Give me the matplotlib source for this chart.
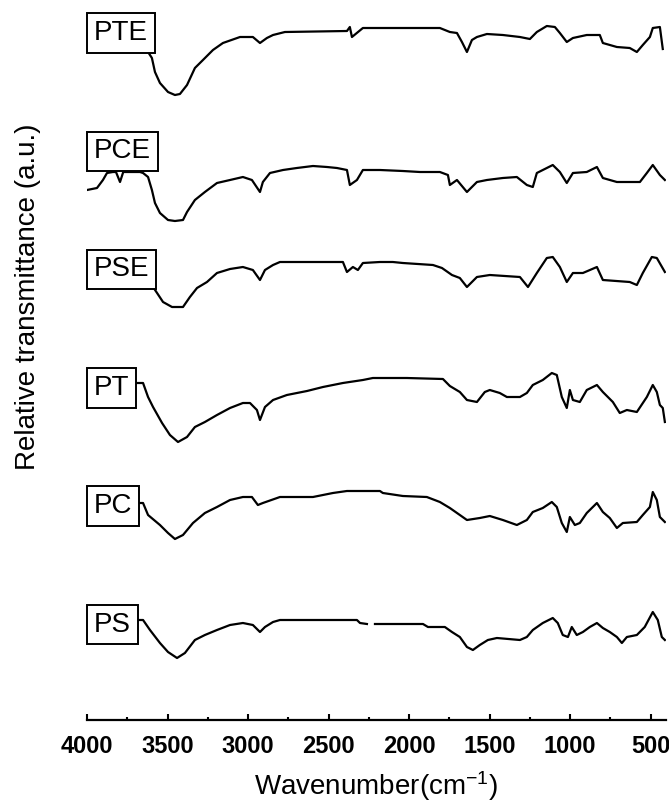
import numpy as np
import matplotlib
matplotlib.use("Agg")
import matplotlib.pyplot as plt
from matplotlib.ticker import MultipleLocator

plt.rcParams['font.family'] = ['Liberation Sans', 'DejaVu Sans']
plt.rcParams['mathtext.fontset'] = 'custom'
plt.rcParams['mathtext.rm'] = 'Liberation Sans'
plt.rcParams['mathtext.it'] = 'Liberation Sans'

# FTIR spectra, wavenumbers in cm-1, transmittance in a.u. (each trace relative to its own minimum)
pte_wn = [4000, 3800, 3660, 3621, 3597, 3578, 3547, 3497, 3454, 3423, 3379, 3330, 3280, 3218, 3156,
          3050, 2970, 2926, 2883, 2845, 2771, 2386, 2368, 2355, 2287, 1809, 1747, 1703, 1672, 1641,
          1610, 1579, 1517, 1418, 1312, 1250, 1207, 1145, 1095, 1064, 1021, 983, 897, 816, 797,
          710, 630, 586, 549, 505, 487, 443, 425]
pte_t = [5.5, 5.5, 5.0, 4.3, 3.7, 2.3, 1.2, 0.3, 0.0, 0.1, 1.0, 2.7, 3.5, 4.5, 5.2,
         5.8, 5.8, 5.2, 5.7, 6.0, 6.3, 6.4, 6.8, 5.8, 6.7, 6.7, 6.3, 6.2, 5.3, 4.3,
         5.5, 5.8, 6.1, 6.0, 5.8, 5.6, 6.3, 6.9, 6.8, 6.2, 5.3, 5.7, 6.0, 6.0, 5.2,
         4.8, 4.7, 4.3, 5.0, 5.8, 6.7, 6.8, 4.6]

pce_wn = [4000, 3938, 3901, 3876, 3839, 3820, 3795, 3775, 3764, 3671, 3652, 3621, 3597, 3578, 3547,
          3497, 3454, 3404, 3379, 3330, 3268, 3193, 3112, 3032, 2976, 2926, 2908, 2864, 2783, 2697,
          2597, 2510, 2448, 2386, 2368, 2324, 2287, 2181, 2039, 1933, 1809, 1759, 1747, 1703, 1641,
          1579, 1517, 1418, 1331, 1269, 1232, 1207, 1108, 1064, 1021, 983, 897, 834, 797, 710,
          630, 567, 524, 487, 443, 412]
pce_t = [3.1, 3.3, 4.1, 4.8, 4.9, 4.9, 3.9, 4.9, 4.9, 4.9, 4.8, 4.4, 3.1, 1.8, 0.8,
         0.1, 0.0, 0.1, 0.9, 2.1, 2.9, 3.8, 4.1, 4.4, 4.1, 2.9, 3.9, 4.8, 5.1, 5.3,
         5.5, 5.4, 5.3, 5.1, 3.6, 4.1, 5.1, 5.1, 5.0, 4.9, 4.9, 4.6, 3.6, 4.1, 2.9,
         3.9, 4.1, 4.3, 4.4, 3.6, 3.4, 4.8, 5.6, 4.9, 3.8, 4.8, 4.9, 5.4, 4.3, 3.9,
         3.9, 3.9, 4.8, 5.6, 4.6, 4.1]

pse_wn = [4000, 3700, 3590, 3565, 3528, 3472, 3404, 3361, 3317, 3255, 3193, 3112, 3032, 2970, 2926,
          2895, 2845, 2802, 2411, 2386, 2349, 2318, 2287, 2181, 2101, 2039, 1852, 1796, 1734, 1685,
          1641, 1579, 1499, 1312, 1262, 1207, 1145, 1108, 1064, 1021, 983, 921, 834, 797, 630,
          586, 549, 493, 462, 412]
pse_t = [3.7, 3.7, 2.0, 1.4, 0.5, 0.0, 0.0, 1.0, 1.9, 2.5, 3.4, 3.8, 4.0, 3.7, 2.7,
         3.7, 4.2, 4.5, 4.5, 3.5, 4.0, 3.7, 4.4, 4.5, 4.5, 4.4, 4.2, 3.9, 3.2, 2.9,
         2.0, 3.0, 3.2, 3.0, 2.0, 3.4, 4.9, 5.0, 4.0, 2.5, 3.4, 3.4, 4.0, 2.7, 2.5,
         2.2, 3.4, 5.0, 4.9, 3.5]

pt_wn = [4000, 3700, 3652, 3621, 3590, 3534, 3485, 3435, 3379, 3330, 3268, 3193, 3112, 3032, 2988,
         2945, 2926, 2895, 2845, 2759, 2634, 2535, 2411, 2287, 2225, 2014, 1790, 1747, 1685, 1641,
         1579, 1530, 1499, 1437, 1393, 1312, 1269, 1232, 1170, 1114, 1083, 1052, 1021, 1002, 983,
         940, 897, 834, 797, 735, 692, 648, 586, 524, 487, 462, 443, 425, 412]
pt_t = [5.9, 5.9, 5.9, 4.5, 3.5, 1.9, 0.7, 0.0, 0.5, 1.5, 2.0, 2.7, 3.4, 3.9, 3.9,
        3.2, 2.2, 3.5, 4.2, 4.7, 5.1, 5.5, 5.9, 6.2, 6.4, 6.4, 6.3, 5.6, 5.0, 4.2,
        4.0, 5.0, 5.2, 4.9, 4.5, 4.5, 4.9, 5.7, 6.2, 6.9, 6.7, 4.5, 3.4, 5.2, 4.2,
        4.0, 5.2, 5.7, 5.0, 4.0, 2.9, 3.2, 3.0, 4.5, 5.7, 5.0, 3.7, 3.4, 2.0]

pc_wn = [4000, 3700, 3652, 3621, 3547, 3497, 3454, 3404, 3342, 3268, 3193, 3112, 3032, 2976, 2939,
         2908, 2802, 2721, 2597, 2473, 2386, 2181, 2163, 2039, 1890, 1809, 1747, 1685, 1641, 1561,
         1499, 1418, 1331, 1269, 1232, 1170, 1114, 1083, 1052, 1021, 1002, 971, 940, 897, 834,
         797, 754, 710, 673, 586, 549, 505, 487, 462, 443, 412]
pc_t = [3.6, 3.6, 3.6, 2.4, 1.4, 0.6, 0.0, 0.4, 1.6, 2.6, 3.2, 3.9, 4.2, 4.2, 3.4,
        3.6, 4.2, 4.2, 4.2, 4.6, 4.8, 4.8, 4.6, 4.3, 4.2, 3.7, 3.1, 2.4, 1.9, 2.1,
        2.3, 1.9, 1.4, 1.9, 2.7, 3.1, 3.7, 3.2, 1.6, 0.7, 2.2, 1.4, 1.6, 2.6, 3.6,
        2.7, 2.1, 1.1, 1.6, 1.7, 2.4, 3.2, 4.7, 3.9, 2.2, 1.7]

ps_wn = [4000, 3700, 3652, 3609, 3547, 3497, 3441, 3392, 3330, 3268, 3193, 3112, 3032, 2970, 2926,
         2895, 2845, 2802, 2324, 2305, 2262, 2240, 2212, 1914, 1883, 1778, 1734, 1685, 1641, 1604,
         1561, 1511, 1455, 1312, 1269, 1232, 1170, 1108, 1077, 1046, 1014, 990, 959, 921, 878,
         834, 797, 754, 710, 679, 648, 586, 537, 487, 456, 431, 412]
ps_t = [3.8, 3.8, 3.8, 2.8, 1.5, 0.6, 0.0, 0.5, 1.8, 2.3, 2.8, 3.3, 3.5, 3.3, 2.6,
        3.1, 3.6, 3.8, 3.8, 3.5, 3.4, np.nan, 3.4, 3.4, 3.1, 3.1, 2.6, 2.1, 1.1, 0.8,
        1.3, 1.8, 2.0, 1.8, 2.1, 2.8, 3.5, 4.0, 3.5, 2.3, 2.1, 3.1, 2.3, 2.6, 3.1,
        3.5, 3.0, 2.6, 2.1, 1.5, 2.1, 2.3, 3.1, 4.6, 3.8, 2.1, 1.8]

labels = ['PTE', 'PCE', 'PSE', 'PT', 'PC', 'PS']
offsets = [62.5, 49.9, 41.3, 27.8, 18.1, 6.2]
label_y = [68.7, 56.85, 45.05, 33.2, 21.4, 9.55]

series = [(pte_wn, pte_t), (pce_wn, pce_t), (pse_wn, pse_t),
          (pt_wn, pt_t), (pc_wn, pc_t), (ps_wn, ps_t)]

fig = plt.figure(figsize=(6.69, 8.08), dpi=100)
ax = fig.add_axes([87 / 669, 88 / 808, 579 / 669, 720 / 808])

for (wn, t), off in zip(series, offsets):
    ax.plot(wn, np.array(t, dtype=float) + off, color='black', lw=1.6, zorder=2)

for lab, yl in zip(labels, label_y):
    ax.annotate(lab, xy=(4000, yl), xytext=(7, 0), textcoords='offset pixels',
                ha='left', va='center', fontsize=20, zorder=5,
                bbox=dict(boxstyle='square,pad=0.25', fc='white', ec='black', lw=1.4))

ax.set_xlim(4000, 405)
ax.set_ylim(0, 72)
ax.xaxis.set_major_locator(MultipleLocator(500))
ax.xaxis.set_minor_locator(MultipleLocator(250))
ax.set_yticks([])
for s in ['top', 'right', 'left']:
    ax.spines[s].set_visible(False)
ax.spines['bottom'].set_linewidth(1.6)
ax.tick_params(axis='x', which='major', direction='in', length=4, width=1.5, pad=11,
               labelsize=17)
ax.tick_params(axis='x', which='minor', direction='in', length=2.5, width=1.5)
for lbl in ax.get_xticklabels():
    lbl.set_fontweight('bold')

ax.set_xlabel('Wavenumber(cm$^{-1}$)', fontsize=20, labelpad=8)
fig.text(28 / 669, 1 - 297 / 808, 'Relative transmittance (a.u.)', rotation=90,
         ha='center', va='center', fontsize=20)

fig.savefig('out.png', dpi=100)
